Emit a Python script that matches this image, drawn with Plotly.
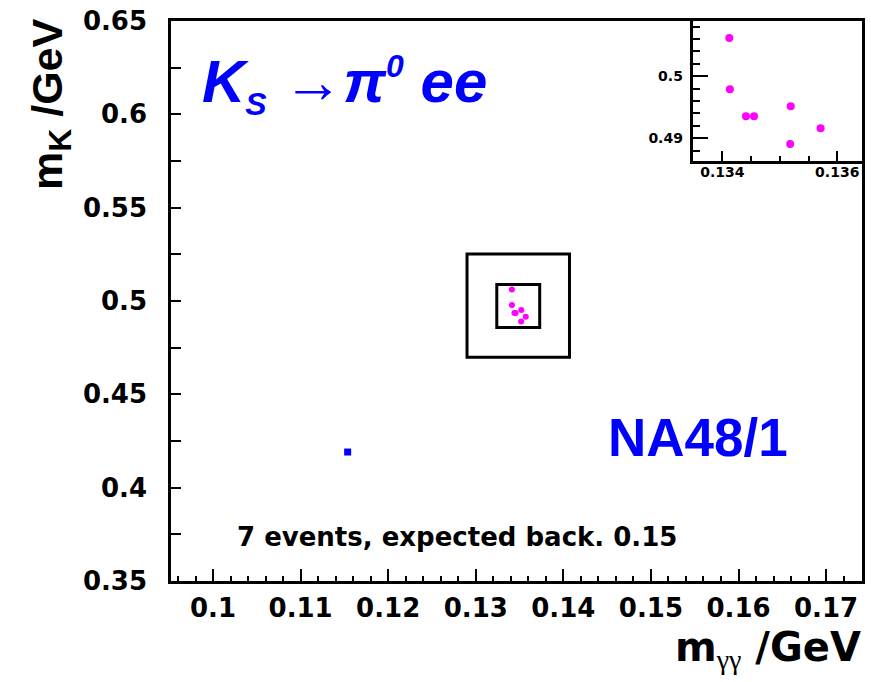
import plotly.graph_objects as go

# Selected K_S -> pi0 e+e- candidates: two-photon mass and reconstructed kaon mass (GeV)
m_gg = [0.13412, 0.13413, 0.13441, 0.13455, 0.13519, 0.13518, 0.13571]
m_k = [0.50618, 0.49790, 0.49355, 0.49355, 0.49516, 0.48908, 0.49161]

# Candidate found outside the search region
m_gg_out = [0.11537]
m_k_out = [0.41909]

# Signal region and surrounding control region
signal_x = [0.1324, 0.1373]
signal_y = [0.4858, 0.5089]
control_x = [0.1290, 0.1407]
control_y = [0.4698, 0.5252]

# Axis ticks
x_ticks = [0.10, 0.11, 0.12, 0.13, 0.14, 0.15, 0.16, 0.17]
x_tick_labels = ["0.1", "0.11", "0.12", "0.13", "0.14", "0.15", "0.16", "0.17"]
y_ticks = [0.35, 0.40, 0.45, 0.50, 0.55, 0.60, 0.65]
y_tick_labels = ["0.35", "0.4", "0.45", "0.5", "0.55", "0.6", "0.65"]
zoom_x_ticks = [0.134, 0.136]
zoom_x_tick_labels = ["0.134", "0.136"]
zoom_y_ticks = [0.49, 0.50]
zoom_y_tick_labels = ["0.49", "0.5"]

# Plot-area geometry in pixels, used to place annotations
L, T, W, H = 171, 18, 694, 563


def fx(px):
    return (px - L) / W


def fy(py):
    return (T + H - py) / H


BLUE = "#0000ff"
MAGENTA = "#ff00ff"
TICK_FONT = dict(family="DejaVu Sans", size=26, color="black", weight="bold")
SMALL_FONT = dict(family="DejaVu Sans", size=14, color="black", weight="bold")

fig = go.Figure()

fig.add_trace(go.Scatter(
    x=m_gg, y=m_k, mode="markers",
    marker=dict(color=MAGENTA, size=6, line=dict(width=0)),
    xaxis="x", yaxis="y", showlegend=False, hoverinfo="skip"))
fig.add_trace(go.Scatter(
    x=m_gg_out, y=m_k_out, mode="markers",
    marker=dict(color=BLUE, size=7, symbol="square", line=dict(width=0)),
    xaxis="x", yaxis="y", showlegend=False, hoverinfo="skip"))
fig.add_trace(go.Scatter(
    x=m_gg, y=m_k, mode="markers",
    marker=dict(color=MAGENTA, size=8, line=dict(width=0)),
    xaxis="x2", yaxis="y2", showlegend=False, hoverinfo="skip"))

for bx, by in ((control_x, control_y), (signal_x, signal_y)):
    fig.add_shape(type="rect", xref="x", yref="y",
                  x0=bx[0], x1=bx[1], y0=by[0], y1=by[1],
                  line=dict(color="black", width=3), fillcolor="rgba(0,0,0,0)")

axis_common = dict(showline=True, linecolor="black", mirror=True, showgrid=False,
                   zeroline=False, ticks="inside", tickcolor="black", tickmode="array")

fig.update_layout(
    width=871, height=682, autosize=False,
    margin=dict(l=L, r=871 - L - W, t=T, b=682 - T - H),
    paper_bgcolor="white", plot_bgcolor="white",
    xaxis=dict(axis_common, domain=[0, 1], anchor="y", range=[0.0952, 0.1741],
               tickvals=x_ticks, ticktext=x_tick_labels, ticklen=12, tickwidth=1.5,
               linewidth=2.5, tickfont=TICK_FONT, ticklabelstandoff=2,
               minor=dict(tick0=0.1, dtick=0.002, ticks="inside", ticklen=5,
                          tickwidth=1.5, tickcolor="black")),
    yaxis=dict(axis_common, domain=[0, 1], anchor="x", range=[0.35, 0.65],
               tickvals=y_ticks, ticktext=y_tick_labels, ticklen=10, tickwidth=1.5,
               linewidth=2.5, tickfont=TICK_FONT, ticklabelstandoff=16,
               minor=dict(tick0=0.35, dtick=0.025, ticks="inside", ticklen=10,
                          tickwidth=1.5, tickcolor="black")),
    xaxis2=dict(axis_common, domain=[fx(695), 1], anchor="y2", range=[0.133483, 0.136431],
                tickvals=zoom_x_ticks, ticktext=zoom_x_tick_labels, ticklen=10, tickwidth=2,
                linewidth=3, tickfont=SMALL_FONT, ticklabelstandoff=-4,
                minor=dict(tick0=0.134, dtick=0.0005, ticks="inside", ticklen=5,
                           tickwidth=2, tickcolor="black")),
    yaxis2=dict(axis_common, domain=[fy(159), 1], anchor="x2", range=[0.4863, 0.5089],
                tickvals=zoom_y_ticks, ticktext=zoom_y_tick_labels, ticklen=15, tickwidth=2,
                linewidth=3, tickfont=SMALL_FONT, ticklabelstandoff=4,
                minor=dict(tick0=0.49, dtick=0.002, ticks="inside", ticklen=7,
                           tickwidth=2, tickcolor="black")),
)

annotations = [
    dict(text="<b><i>K<sub><span style=\"font-size:32px\">S</span></sub> "
              "→π<sup><span style=\"font-size:32px\">0</span></sup> ee</i></b>",
         x=fx(200), y=fy(82), xanchor="left", yanchor="middle",
         font=dict(family="Liberation Sans", size=60, color=BLUE)),
    dict(text="<b>NA48/1</b>", x=fx(700), y=fy(437), xanchor="center", yanchor="middle",
         font=dict(family="Liberation Sans", size=53, color=BLUE)),
    dict(text="<b>7 events, expected back. 0.15</b>", x=fx(458), y=fy(537),
         xanchor="center", yanchor="middle",
         font=dict(family="DejaVu Sans", size=26, color="black")),
    dict(text="<b>m<sub><span style=\"font-size:32px\">K</span></sub> /GeV</b>",
         textangle=-90, x=fx(50), y=fy(102),
         xanchor="center", yanchor="middle",
         font=dict(family="Liberation Sans", size=43, color="black")),
    dict(text="<b>m<sub><span style=\"font-family:Liberation Serif;font-weight:normal\">γγ</span></sub> /GeV</b>",
         x=fx(866), y=fy(650), xanchor="right", yanchor="middle",
         font=dict(family="DejaVu Sans", size=40, color="black")),
]
for a in annotations:
    fig.add_annotation(a, xref="paper", yref="paper", showarrow=False)

fig.write_html("out.html")
